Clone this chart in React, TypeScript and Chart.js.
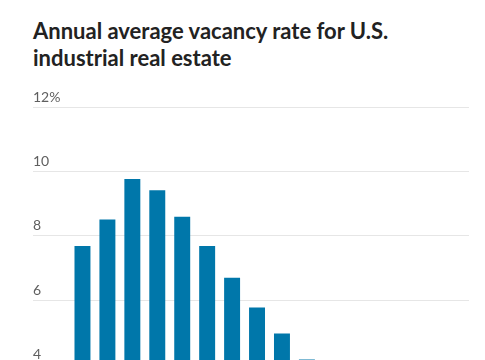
import React, { useEffect, useRef } from "react";
import { Chart, registerables } from "chart.js";

Chart.register(...registerables);

const titleLines = ["Annual average vacancy rate for U.S.", "industrial real estate"];
const years = ["2008", "2009", "2010", "2011", "2012", "2013", "2014", "2015", "2016", "2017", "2018", "2019", "2020", "2021", "2022", "2023"];
const vacancy = [7.68, 8.5, 9.76, 9.41, 8.59, 7.68, 6.69, 5.77, 4.96, 4.15, 3.9, 3.8, 3.9, 3.6, 3.3, 3.5];
const yTicks = [0, 2, 4, 6, 8, 10, 12];

export default function App() {
  const ref = useRef<HTMLCanvasElement | null>(null);

  useEffect(() => {
    if (!ref.current) return;
    const chart = new Chart(ref.current, {
      type: "bar",
      data: {
        labels: years,
        datasets: [
          {
            data: vacancy,
            backgroundColor: "#0077aa",
            borderWidth: 0,
            barPercentage: 0.64,
            categoryPercentage: 1,
          },
        ],
      },
      options: {
        animation: false,
        responsive: false,
        maintainAspectRatio: false,
        layout: { padding: { left: 25, right: 8, top: 27, bottom: 27 } },
        plugins: { legend: { display: false }, tooltip: { enabled: false } },
        scales: {
          x: { display: false },
          y: {
            min: 0,
            max: 12,
            afterBuildTicks: (scale: any) => {
              scale.ticks = yTicks.map((v) => ({ value: v }));
            },
            afterFit: (scale: any) => {
              scale.width = 37;
            },
            border: { display: false },
            grid: { color: "#e6e6e6", lineWidth: 1, tickLength: 37, drawTicks: true },
            ticks: {
              crossAlign: "far",
              labelOffset: -10,
              padding: 0,
              color: "#5f5f5f",
              font: { family: "Lato", size: 14 },
              callback: (v: any) => (Number(v) === 12 ? "12%" : String(v)),
            },
          },
        },
      },
    });
    return () => chart.destroy();
  }, []);

  return (
    <div style={{ position: "relative", height: 372, width: 469, overflow: "hidden", fontFamily: "Lato" }}>
      <div
        style={{
          position: "absolute",
          left: 25,
          top: 9,
          fontWeight: 700,
          fontSize: 22,
          lineHeight: "27px",
          color: "#222222",
          whiteSpace: "nowrap",
        }}
      >
        {titleLines.map((t) => (
          <div key={t}>{t}</div>
        ))}
      </div>
      <canvas ref={ref} width={469} height={440} style={{ position: "absolute", left: 0, top: 72, display: "block" }} />
    </div>
  );
}
